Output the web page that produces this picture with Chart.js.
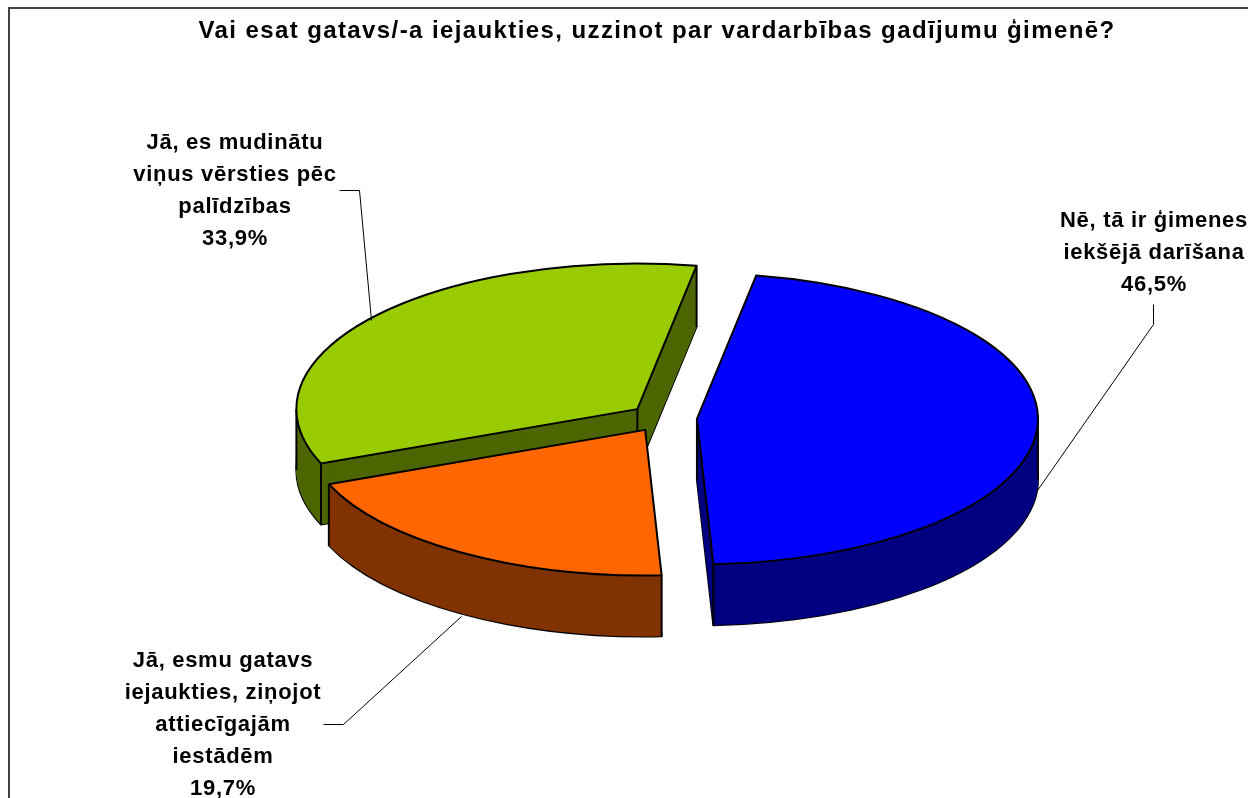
<!DOCTYPE html>
<html>
<head>
<meta charset="utf-8">
<style>html,body{margin:0;padding:0;background:#fff;overflow:hidden}canvas{display:block}</style>
<script src="https://cdn.jsdelivr.net/npm/chart.js@4"></script>
</head>
<body>
<canvas id="c" width="1248" height="798"></canvas>
<script>
const titleText = 'Vai esat gatavs/-a iejaukties, uzzinot par vardarbības gadījumu ģimenē?';
const categories = ['Nē, tā ir ģimenes iekšējā darīšana', 'Jā, esmu gatavs iejaukties, ziņojot attiecīgajām iestādēm', 'Jā, es mudinātu viņus vērsties pēc palīdzības'];
const values = [46.5, 19.7, 33.9];
const valueLabels = ['46,5%', '19,7%', '33,9%'];
const topColors = ['#0000FF', '#FF6600', '#99CC00'];
const wallColors = ['#000080', '#803300', '#4D6600'];
const explode = [34, 33, 33];
const labelLines = [
  ['Nē, tā ir ģimenes', 'iekšējā darīšana'],
  ['Jā, esmu gatavs', 'iejaukties, ziņojot', 'attiecīgajām', 'iestādēm'],
  ['Jā, es mudinātu', 'viņus vērsties pēc', 'palīdzības']
];
const labelPos = [[1154, 227], [223, 667], [235, 149]];
const leaders = [
  [[1153, 304], [1153, 324], [1037, 490]],
  [[323, 724], [343, 724], [461, 616]],
  [[339, 190], [359, 190], [371, 320]]
];
const CX = 663, CY = 418, TILT = 0.427, DEPTH = 61;
const FONT = 'bold 22px "Liberation Sans", Arial, sans-serif';

function place(ctx, el, i, dy) {
  const mid = (el.startAngle + el.endAngle) / 2;
  ctx.translate(CX + Math.cos(mid) * explode[i], CY + Math.sin(mid) * explode[i] * TILT + dy);
  ctx.scale(1, TILT);
  ctx.translate(-el.x, -el.y);
}
function tracePath(ctx, el, i, dy) {
  ctx.save();
  place(ctx, el, i, dy);
  ctx.beginPath();
  ctx.moveTo(el.x, el.y);
  ctx.arc(el.x, el.y, el.outerRadius, el.startAngle, el.endAngle);
  ctx.closePath();
  ctx.restore();
}
function screenPoint(el, i, a, r) {
  const mid = (el.startAngle + el.endAngle) / 2;
  return [CX + Math.cos(mid) * explode[i] + Math.cos(a) * r,
          CY + (Math.sin(mid) * explode[i] + Math.sin(a) * r) * TILT];
}

const pie3d = {
  id: 'pie3d',
  beforeDraw(chart) {
    chart.ctx.letterSpacing = '1.4px';
  },
  beforeDatasetDraw(chart, args) {
    const ctx = chart.ctx;
    const arcs = args.meta.data;
    for (const i of [2, 1, 0]) {
      const el = arcs[i];
      ctx.save();
      ctx.lineWidth = 2;
      ctx.strokeStyle = '#000';
      ctx.lineJoin = 'round';
      tracePath(ctx, el, i, DEPTH);
      ctx.stroke();
      ctx.fillStyle = wallColors[i];
      for (let d = DEPTH; d >= 0; d--) {
        tracePath(ctx, el, i, d);
        ctx.fill();
      }
      const edges = [[el.startAngle, el.outerRadius], [el.endAngle, el.outerRadius], [0, 0]];
      for (const a of [0, Math.PI, 2 * Math.PI, -Math.PI]) {
        if (a > el.startAngle && a < el.endAngle) edges.push([a, el.outerRadius]);
      }
      for (const [a, r] of edges) {
        const p = screenPoint(el, i, a, r);
        ctx.beginPath();
        ctx.moveTo(p[0], p[1]);
        ctx.lineTo(p[0], p[1] + DEPTH);
        ctx.stroke();
      }
      ctx.save();
      place(ctx, el, i, 0);
      el.draw(ctx);
      ctx.restore();
      tracePath(ctx, el, i, 0);
      ctx.stroke();
      ctx.restore();
    }
    return false;
  },
  afterDraw(chart) {
    const ctx = chart.ctx;
    ctx.save();
    ctx.strokeStyle = '#404040';
    ctx.lineWidth = 2;
    ctx.strokeRect(9, 8, 1300, 900);
    ctx.strokeStyle = '#000';
    ctx.lineWidth = 1;
    for (const pts of leaders) {
      ctx.beginPath();
      pts.forEach((p, k) => k ? ctx.lineTo(p[0] + .5, p[1] + .5) : ctx.moveTo(p[0] + .5, p[1] + .5));
      ctx.stroke();
    }
    ctx.fillStyle = '#000';
    ctx.font = FONT;
    ctx.letterSpacing = '0.7px';
    ctx.textAlign = 'center';
    ctx.textBaseline = 'alphabetic';
    labelLines.forEach((lines, i) => {
      [...lines, valueLabels[i]].forEach((t, k) => {
        ctx.fillText(t, labelPos[i][0], labelPos[i][1] + k * 32);
      });
    });
    ctx.restore();
  }
};

new Chart(document.getElementById('c'), {
  type: 'pie',
  plugins: [pie3d],
  data: {
    labels: categories,
    datasets: [{ data: values, backgroundColor: topColors, borderWidth: 0 }]
  },
  options: {
    responsive: false,
    animation: false,
    events: [],
    rotation: 10,
    layout: { padding: { left: 66, right: 0, top: 9, bottom: 66.2 } },
    plugins: {
      legend: { display: false },
      tooltip: { enabled: false },
      title: {
        display: true,
        text: titleText,
        color: '#000',
        font: { family: '"Liberation Sans", Arial, sans-serif', size: 24, weight: 'bold' },
        padding: { top: 8, bottom: 4 }
      }
    }
  }
});
</script>
</body>
</html>
